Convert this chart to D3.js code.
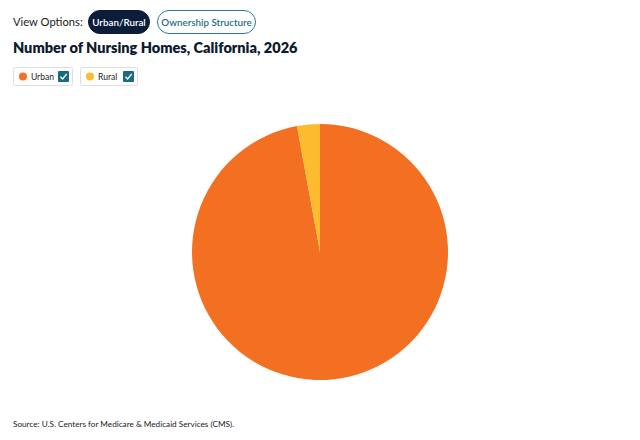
<!DOCTYPE html>
<html>
<head>
<meta charset="utf-8">
<script src="https://cdn.jsdelivr.net/npm/d3@7"></script>
<style>
  html, body { margin: 0; padding: 0; background: #fff; }
  svg { display: block; font-family: Lato, "Noto Sans", sans-serif; }
</style>
</head>
<body>
<svg id="chart" width="640" height="440"></svg>
<script>
// chart values
var categories = ['Urban', 'Rural'];
var counts = [1146, 34];
var colors = ['#f36f21', '#fdbb30'];
var viewOptions = ['Urban/Rural', 'Ownership Structure'];

var svg = d3.select('#chart');

// view option toggles
svg.append('text')
    .attr('x', 13).attr('y', 26)
    .style('font-size', '11.2px').style('fill', '#1b1b1b')
    .text('View Options:');

var btnX = [88, 157], btnW = [61, 98];
viewOptions.forEach(function(label, i){
    var g = svg.append('g').attr('transform', 'translate(' + btnX[i] + ',10)');
    g.append('rect')
        .attr('x', 0.5).attr('y', 0.5)
        .attr('width', btnW[i]).attr('height', 23)
        .attr('rx', 11.5)
        .style('fill', i === 0 ? '#0c1d3a' : '#fff')
        .style('stroke', i === 0 ? '#0c1d3a' : '#2a7d95');
    g.append('text')
        .attr('x', btnW[i] / 2 + 0.5).attr('y', 15.5)
        .attr('text-anchor', 'middle')
        .style('font-size', '9.8px')
        .style('font-weight', 600)
        .style('fill', i === 0 ? '#fff' : '#1f6f88')
        .text(label);
});

svg.append('text')
    .attr('x', 13).attr('y', 53)
    .style('font-size', '14.5px').style('font-weight', 800)
    .style('fill', '#0e1b2e')
    .text('Number of Nursing Homes, California, 2026');

// legend
var legX = [13, 80], legW = [59, 57];
categories.forEach(function(c, i){
    var g = svg.append('g').attr('transform', 'translate(' + legX[i] + ',67)');
    g.append('rect')
        .attr('x', 0.5).attr('y', 0.5)
        .attr('width', legW[i]).attr('height', 18).attr('rx', 2)
        .style('fill', '#fff').style('stroke', '#e3dcdc');
    g.append('circle')
        .attr('cx', 10).attr('cy', 9.5).attr('r', 4)
        .style('fill', colors[i]);
    g.append('text')
        .attr('x', 18).attr('y', 12.5)
        .style('font-size', '8.5px').style('fill', '#222')
        .text(c);
    var cb = g.append('g').attr('transform', 'translate(' + (legW[i] - 14) + ',4)');
    cb.append('rect')
        .attr('width', 11).attr('height', 11).attr('rx', 1)
        .style('fill', '#1a6a86');
    cb.append('path')
        .attr('d', 'M2.5,5.8 L4.6,8 L8.7,3')
        .style('fill', 'none').style('stroke', '#fff').style('stroke-width', 1.3);
});

// pie
var cx = 320, cy = 252, radius = 128;
var pie = d3.pie().sort(null).value(function(d){ return d; });
var arc = d3.arc().innerRadius(0).outerRadius(radius);

svg.append('g')
    .attr('transform', 'translate(' + cx + ',' + cy + ')')
    .selectAll('path')
    .data(pie(counts))
    .enter()
    .append('path')
    .attr('d', arc)
    .style('fill', function(d, i){ return colors[i]; });

svg.append('text')
    .attr('x', 13).attr('y', 427)
    .style('font-size', '8.2px').style('fill', '#222')
    .text('Source: U.S. Centers for Medicare & Medicaid Services (CMS).');
</script>
</body>
</html>
